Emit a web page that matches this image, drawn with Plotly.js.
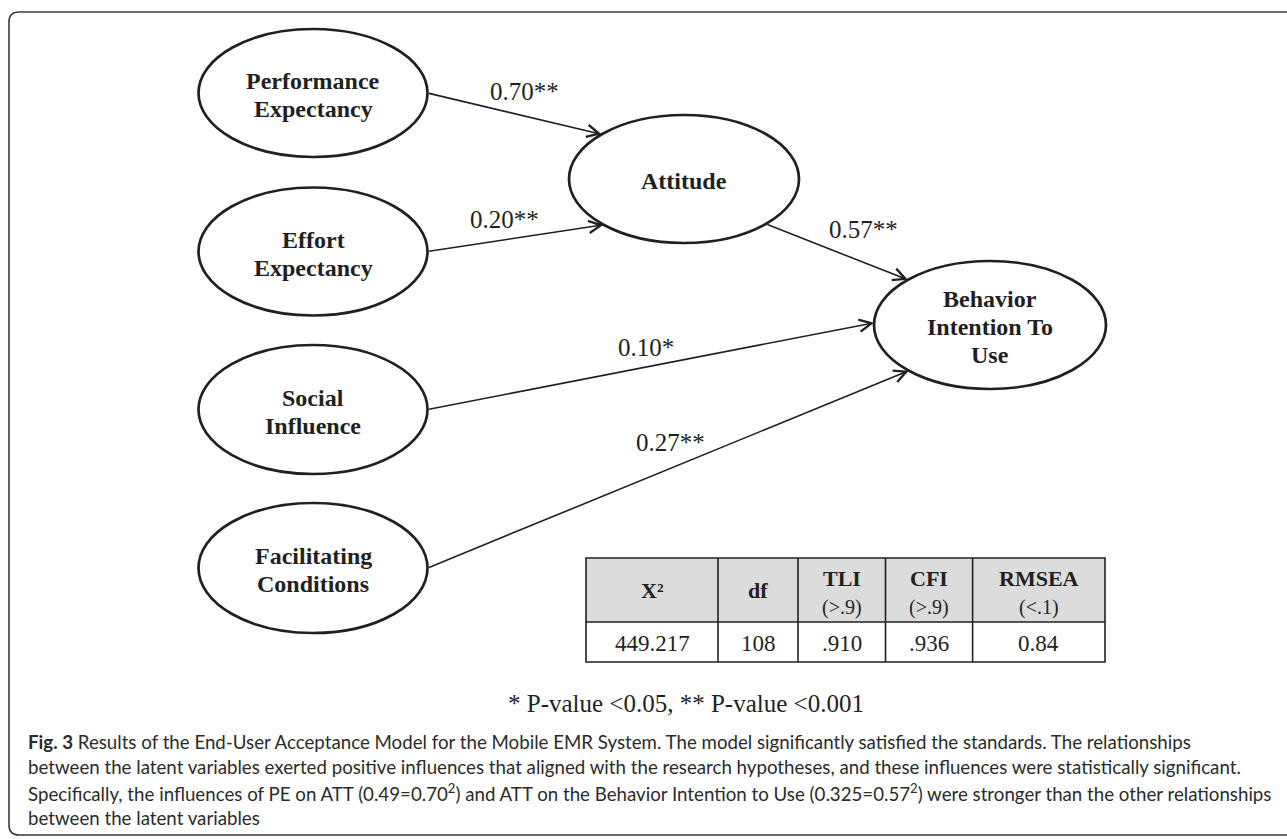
<!DOCTYPE html>
<html><head><meta charset="utf-8">
<script src="https://cdn.plot.ly/plotly-3.0.1.min.js"></script>
<style>html,body{margin:0;padding:0;background:#fff}#chart{width:1287px;height:839px}</style>
</head><body><div id="chart"></div>
<script>
// ---------------- data ----------------
const constructs = ["Performance<br>Expectancy", "Effort<br>Expectancy", "Social<br>Influence",
  "Facilitating<br>Conditions", "Attitude", "Behavior<br>Intention To<br>Use"];
const pathFrom = [0, 1, 4, 2, 3];
const pathTo   = [4, 4, 5, 5, 5];
const pathCoef = ["0.70**", "0.20**", "0.57**", "0.10*", "0.27**"];
const fitHeaders  = ["X²", "df", "TLI", "CFI", "RMSEA"];
const fitCriteria = ["", "", "(>.9)", "(>.9)", "(<.1)"];
const fitValues   = ["449.217", "108", ".910", ".936", "0.84"];
const footnote = "* P-value <0.05, ** P-value <0.001";
const captionLines = [
  "<b>Fig. 3</b> Results of the End-User Acceptance Model for the Mobile EMR System. The model significantly satisfied the standards. The relationships",
  "between the latent variables exerted positive influences that aligned with the research hypotheses, and these influences were statistically significant.",
  "Specifically, the influences of PE on ATT (0.49=0.70<sup>2</sup>) and ATT on the Behavior Intention to Use (0.325=0.57<sup>2</sup>) were stronger than the other relationships",
  "between the latent variables"
];

// ---------------- layout geometry (pixels) ----------------
const W = 1287, H = 839;
const nodeCx = [313, 313, 313, 313, 684, 990];
const nodeCy = [93, 251.5, 409.5, 568, 179, 325];
const nodeRx = [114.5, 114.5, 114.5, 114.5, 115, 116];
const nodeRy = [64, 64, 64.5, 65, 64, 64];
const lineGap = 28;
const edgeStartAng = [0, 0, 44.6, 0, 0];
const edgeEndAng   = [224.3, 134.4, 224.9, 182, 134.5];
const labelT  = [0.555, 0.44, 0.69, 0.49, 0.504];
const labelDy = [-24, -20, -33, -20, -26];
const tableCols = [586, 718, 798, 885.5, 972.6, 1105];
const tableRows = [558, 622, 662];
const ink = "#231f20";
const serif = "Liberation Serif, Times New Roman, serif";
const sans = "Lato, Open Sans, sans-serif";

function pt(i, angDeg) {
  const a = angDeg * Math.PI / 180;
  return [nodeCx[i] + nodeRx[i] * Math.cos(a), nodeCy[i] + nodeRy[i] * Math.sin(a)];
}

const shapes = [];
const annotations = [];

// outer rounded frame
shapes.push({type: "path", xref: "x", yref: "y",
  path: "M 1300,12 L 19,12 Q 9,12 9,22 L 9,825 Q 9,835 19,835 L 1300,835",
  line: {color: "#3a3a3a", width: 1.6}});

// construct ellipses + labels
constructs.forEach((name, i) => {
  shapes.push({type: "circle", xref: "x", yref: "y",
    x0: nodeCx[i] - nodeRx[i], x1: nodeCx[i] + nodeRx[i],
    y0: nodeCy[i] - nodeRy[i], y1: nodeCy[i] + nodeRy[i],
    line: {color: ink, width: 2.7}, fillcolor: "rgba(0,0,0,0)"});
  const lines = name.split("<br>");
  lines.forEach((ln, k) => {
    annotations.push({xref: "x", yref: "y", x: nodeCx[i], y: nodeCy[i] + 2 + (k - (lines.length - 1) / 2) * lineGap,
      text: "<b>" + ln + "</b>", showarrow: false, xanchor: "center", yanchor: "middle",
      font: {family: serif, size: 24, color: ink}});
  });
});

// paths with coefficients
pathFrom.forEach((f, e) => {
  const s = pt(f, edgeStartAng[e]);
  const t = pt(pathTo[e], edgeEndAng[e]);
  annotations.push({xref: "x", yref: "y", axref: "x", ayref: "y",
    x: t[0], y: t[1], ax: s[0], ay: s[1], text: "", showarrow: true,
    arrowhead: 5, arrowsize: 1.5, arrowwidth: 1.6, arrowcolor: ink, standoff: 0, startstandoff: 0});
  const lx = s[0] + (t[0] - s[0]) * labelT[e];
  const ly = s[1] + (t[1] - s[1]) * labelT[e] + labelDy[e];
  annotations.push({xref: "x", yref: "y", x: lx, y: ly, text: pathCoef[e], showarrow: false,
    xanchor: "center", yanchor: "middle", font: {family: serif, size: 25, color: ink}});
});

// fit table
shapes.push({type: "rect", xref: "x", yref: "y", x0: tableCols[0], x1: tableCols[tableCols.length - 1],
  y0: tableRows[0], y1: tableRows[1], fillcolor: "#dcdcdc", line: {width: 0}, layer: "below"});
shapes.push({type: "rect", xref: "x", yref: "y", x0: tableCols[0], x1: tableCols[tableCols.length - 1],
  y0: tableRows[0], y1: tableRows[2], line: {color: ink, width: 1.6}});
shapes.push({type: "line", xref: "x", yref: "y", x0: tableCols[0], x1: tableCols[tableCols.length - 1],
  y0: tableRows[1], y1: tableRows[1], line: {color: ink, width: 1.6}});
for (let c = 1; c < tableCols.length - 1; c++) {
  shapes.push({type: "line", xref: "x", yref: "y", x0: tableCols[c], x1: tableCols[c],
    y0: tableRows[0], y1: tableRows[2], line: {color: ink, width: 1.6}});
}
fitHeaders.forEach((h, c) => {
  const cx = (tableCols[c] + tableCols[c + 1]) / 2;
  const hasCrit = fitCriteria[c] !== "";
  annotations.push({xref: "x", yref: "y", x: cx, y: hasCrit ? 578 : 590, text: "<b>" + h + "</b>",
    showarrow: false, xanchor: "center", yanchor: "middle", font: {family: serif, size: 22, color: ink}});
  if (hasCrit) {
    annotations.push({xref: "x", yref: "y", x: cx, y: 607, text: fitCriteria[c],
      showarrow: false, xanchor: "center", yanchor: "middle", font: {family: serif, size: 20, color: ink}});
  }
  annotations.push({xref: "x", yref: "y", x: cx, y: (tableRows[1] + tableRows[2]) / 2 + 1, text: fitValues[c],
    showarrow: false, xanchor: "center", yanchor: "middle", font: {family: serif, size: 23, color: ink}});
});

// footnote
annotations.push({xref: "x", yref: "y", x: 685.5, y: 703, text: footnote, showarrow: false,
  xanchor: "center", yanchor: "middle", font: {family: serif, size: 25, color: ink}});

// caption
const capY = [742, 767, 792, 818];
captionLines.forEach((ln, k) => {
  annotations.push({xref: "x", yref: "y", x: 26, y: capY[k], text: ln, showarrow: false,
    xanchor: "left", yanchor: "middle", font: {family: sans, size: 18.7, color: "#2b2b2b"}});
});

const data = [{type: "scatter", x: [0, W], y: [0, H], mode: "markers",
  marker: {opacity: 0}, hoverinfo: "skip", showlegend: false}];

const layout = {
  width: W, height: H, margin: {l: 0, r: 0, t: 0, b: 0},
  paper_bgcolor: "#ffffff", plot_bgcolor: "#ffffff",
  xaxis: {range: [0, W], visible: false, fixedrange: true},
  yaxis: {range: [H, 0], visible: false, fixedrange: true},
  shapes: shapes, annotations: annotations, showlegend: false
};
Plotly.newPlot("chart", data, layout, {displayModeBar: false, staticPlot: true});
</script>
</body></html>
